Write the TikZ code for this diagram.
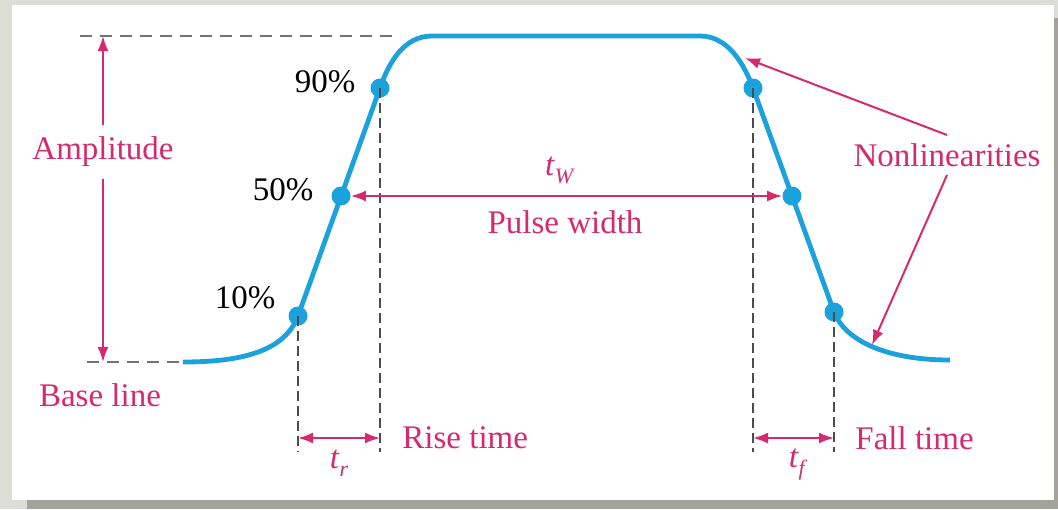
\documentclass[tikz,border=0pt]{standalone}
\usepackage{fontspec}
\setmainfont{Liberation Serif}
\usetikzlibrary{arrows.meta, positioning, calc}
\definecolor{pulsepink}{HTML}{D62A6E}
\definecolor{pulseblue}{HTML}{1BA1DC}
\definecolor{paneback}{HTML}{DDDDD8}
\definecolor{paneshadow}{HTML}{A3A39C}
\newcommand{\tsub}[1]{\textit{t}\raisebox{-4pt}{\fontsize{11}{11}\selectfont\textit{#1}}}
\tikzset{
    lbl/.style={font=\fontsize{16.5}{18}\selectfont, inner sep=1pt},
    pinklbl/.style={lbl, text=pulsepink},
    levdot/.style={circle, fill=pulseblue, inner sep=0pt, minimum size=9.5pt},
    wave/.style={draw=pulseblue, line width=2.4pt},
    guide/.style={draw=black!55, line width=1.1pt, dash pattern=on 6pt off 4pt},
    drop/.style={draw=black!70, line width=1.1pt, dash pattern=on 5pt off 2.5pt},
    pinkarrow/.style={-{Latex[length=7.5pt,width=5.5pt]}, draw=pulsepink, line width=1pt},
    dblarrow/.style={{Latex[length=7.5pt,width=5.5pt]}-{Latex[length=7.5pt,width=5.5pt]}, draw=pulsepink, line width=1pt}
}

\begin{document}
\begin{tikzpicture}[x=0.5pt, y=-0.5pt]
    \useasboundingbox (0,0) rectangle (1058,509);
    % panel
    \fill[paneback] (0,0) rectangle (1058,509);
    \fill[paneshadow] (27,500) rectangle (1058,509);
    \fill[paneshadow] (1054,18) rectangle (1058,509);
    \fill[white] (12,5) rectangle (1054,500);

    % levels
    \coordinate (topL) at (80,36);
    \coordinate (topR) at (400,36);
    \coordinate (baseL) at (87,362);
    \coordinate (baseR) at (183,362);
    \coordinate (p10l) at (298,316);
    \coordinate (p50l) at (341,196);
    \coordinate (p90l) at (380,88);
    \coordinate (p90r) at (753,88);
    \coordinate (p50r) at (792,196);
    \coordinate (p10r) at (834,312);
    \coordinate (lowtick) at (0,452);
    \coordinate (trow) at (0,438);

    \draw[guide] (topL) -- (topR);
    \draw[guide] (baseL) -- (baseR);

    % pulse
    \draw[wave] (baseR) .. controls (245,362) and (285,350) .. (p10l) -- (p90l)
        .. controls (389,62) and (404,36) .. (432,36) -- (700,36)
        .. controls (728,36) and (744,64) .. (p90r) -- (p10r)
        .. controls (845,340) and (885,360) .. (950,360);

    \foreach \p in {10l,50l,90l,90r,50r,10r}
        \node[levdot] (d\p) at (p\p) {};

    \draw[drop] (d10l.center) -- (d10l |- lowtick);
    \draw[drop] (d90l.center) -- (d90l |- lowtick);
    \draw[drop] (d90r.center) -- (d90r |- lowtick);
    \draw[drop] (d10r.center) -- (d10r |- lowtick);

    % labels
    \node[lbl] (l90) at (325,82) {90\%};
    \node[lbl] (l50) at (283,190) {50\%};
    \node[lbl] (l10) at (245,298) {10\%};

    \node[pinklbl, inner sep=6pt] (amp) at (103,152) {Amplitude};
    \draw[pinkarrow] (amp.north) -- (amp.north |- topL);
    \draw[pinkarrow] (amp.south) -- (amp.south |- baseL);
    \node[pinklbl] (base) at (100,395) {Base line};

    \draw[dblarrow] (d50l) -- (d50r);
    \node[pinklbl] (tw) at (560,170) {\tsub{W}};
    \node[pinklbl] (pw) at (565,222) {Pulse width};

    \draw[dblarrow] (d10l |- trow) -- (d90l |- trow);
    \node[pinklbl] (tr) at (339,463) {\tsub{r}};
    \node[pinklbl, anchor=west] (rise) at (400,438) {Rise time};

    \draw[dblarrow] (d90r |- trow) -- (d10r |- trow);
    \node[pinklbl] (tf) at (798,465) {\tsub{f}};
    \node[pinklbl, anchor=west] (fall) at (853,438) {Fall time};

    \node[pinklbl, inner sep=4pt] (nonlin) at (947,155) {Nonlinearities};
    \coordinate (kneetop) at (745,58);
    \coordinate (kneelow) at (872,345);
    \draw[pinkarrow] (nonlin.north) -- (kneetop);
    \draw[pinkarrow] (nonlin.south) -- (kneelow);
\end{tikzpicture}
\end{document}
